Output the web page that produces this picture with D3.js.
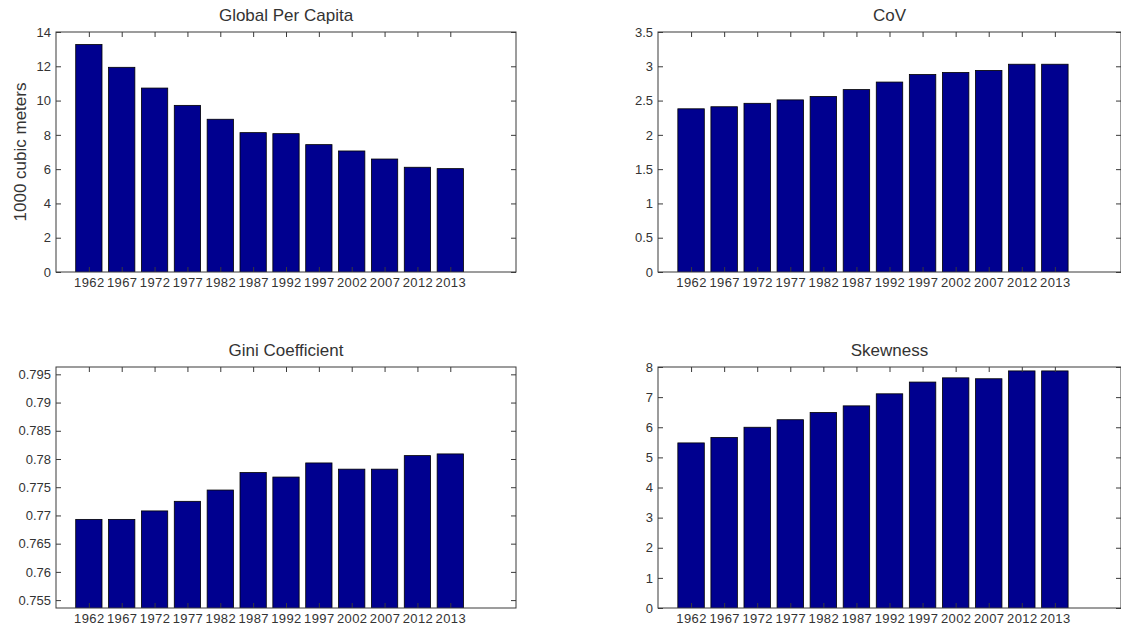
<!DOCTYPE html>
<html>
<head>
<meta charset="utf-8">
<script src="https://cdn.jsdelivr.net/npm/d3@7"></script>
<style>
  html, body { margin: 0; padding: 0; background: #fff; }
  svg { display: block; font-family: "Liberation Sans", Arial, Helvetica, sans-serif; }
</style>
</head>
<body>
<svg id="chart" width="1121" height="625"></svg>
<script>
// ---- Data ----
const years = ["1962","1967","1972","1977","1982","1987","1992","1997","2002","2007","2012","2013"];

const perCapita = [13.27, 11.94, 10.73, 9.72, 8.91, 8.13, 8.07, 7.43, 7.06, 6.59, 6.11, 6.03];
const cov       = [2.38, 2.41, 2.46, 2.51, 2.56, 2.66, 2.77, 2.88, 2.91, 2.94, 3.03, 3.03];
const gini      = [0.7693, 0.7693, 0.7708, 0.7725, 0.7745, 0.7776, 0.7768, 0.7793, 0.7782, 0.7782, 0.7806, 0.7809];
const skewness  = [5.48, 5.66, 6.00, 6.25, 6.49, 6.71, 7.11, 7.50, 7.64, 7.61, 7.87, 7.87];

const perCapitaTicks = [0, 2, 4, 6, 8, 10, 12, 14];
const covTicks       = [0, 0.5, 1, 1.5, 2, 2.5, 3, 3.5];
const giniTicks      = [0.755, 0.76, 0.765, 0.77, 0.775, 0.78, 0.785, 0.79, 0.795];
const skewTicks      = [0, 1, 2, 3, 4, 5, 6, 7, 8];

const titles = ["Global Per Capita", "CoV", "Gini Coefficient", "Skewness"];

// ---- Layout ----
const panels = [
  { title: titles[0], values: perCapita, ticks: perCapitaTicks, ydomain: [0, 14],
    left: 56, right: 516, top: 32, bottom: 272, ylabel: "1000 cubic meters" },
  { title: titles[1], values: cov, ticks: covTicks, ydomain: [0, 3.5],
    left: 658, right: 1121, top: 32, bottom: 272 },
  { title: titles[2], values: gini, ticks: giniTicks, ydomain: [0.7536, 0.7963],
    left: 56, right: 516, top: 367, bottom: 608 },
  { title: titles[3], values: skewness, ticks: skewTicks, ydomain: [0, 8],
    left: 658, right: 1121, top: 367, bottom: 608 }
];

const barColor = "#00008F";
const lineColor = "#3a3a3a";
const textColor = "#333333";
const svg = d3.select("#chart");

panels.forEach((p, pi) => {
  const x = d3.scaleLinear().domain([0, 14]).range([p.left, p.right]);
  const y = d3.scaleLinear().domain(p.ydomain).range([p.bottom, p.top]);
  const g = svg.append("g");

  const clipId = "clip" + pi;
  g.append("clipPath").attr("id", clipId)
    .append("rect").attr("x", p.left).attr("y", p.top)
    .attr("width", p.right - p.left).attr("height", p.bottom - p.top);

  // bars
  const bw = 0.8;
  g.append("g").attr("clip-path", `url(#${clipId})`)
    .selectAll("rect").data(p.values).join("rect")
    .attr("x", (d, i) => x(i + 1 - bw / 2))
    .attr("width", (d, i) => x(i + 1 + bw / 2) - x(i + 1 - bw / 2))
    .attr("y", d => y(d))
    .attr("height", d => Math.max(0, y(p.ydomain[0]) - y(d) + 2))
    .attr("fill", barColor)
    .attr("stroke", "#000")
    .attr("stroke-width", 0.8);

  const idx = d3.range(1, 13);
  // bottom axis (ticks inward)
  const xb = g.append("g").attr("transform", `translate(0,${p.bottom})`)
    .call(d3.axisBottom(x).tickValues(idx).tickFormat(i => years[i - 1])
      .tickSizeInner(-5).tickSizeOuter(0).tickPadding(6));
  // top axis ticks
  const xt = g.append("g").attr("transform", `translate(0,${p.top})`)
    .call(d3.axisTop(x).tickValues(idx).tickFormat("").tickSizeInner(-5).tickSizeOuter(0));
  // left axis
  const yl = g.append("g").attr("transform", `translate(${p.left},0)`)
    .call(d3.axisLeft(y).tickValues(p.ticks).tickFormat(d => String(+d.toFixed(4)))
      .tickSizeInner(-5).tickSizeOuter(0).tickPadding(5));
  // right axis ticks
  const yr = g.append("g").attr("transform", `translate(${p.right},0)`)
    .call(d3.axisRight(y).tickValues(p.ticks).tickFormat("").tickSizeInner(-5).tickSizeOuter(0));

  [xb, xt, yl, yr].forEach(a => {
    a.select(".domain").remove();
    a.selectAll("line").attr("stroke", lineColor).attr("stroke-width", 1);
    a.selectAll("text").attr("fill", textColor).style("font-size", "13px")
      .style("font-family", '"Liberation Sans", Arial, sans-serif');
  });
  xb.selectAll("text").style("letter-spacing", "0.4px");

  // box
  g.append("rect").attr("x", p.left).attr("y", p.top)
    .attr("width", p.right - p.left).attr("height", p.bottom - p.top)
    .attr("fill", "none").attr("stroke", lineColor).attr("stroke-width", 1);

  // title
  g.append("text")
    .attr("x", (p.left + p.right) / 2).attr("y", p.top - 11)
    .attr("text-anchor", "middle").attr("fill", textColor)
    .style("font-size", "17px").text(p.title);

  if (p.ylabel) {
    g.append("text")
      .attr("transform", `translate(26,${(p.top + p.bottom) / 2}) rotate(-90)`)
      .attr("text-anchor", "middle").attr("fill", textColor)
      .style("font-size", "17px").text(p.ylabel);
  }
});
</script>
</body>
</html>
